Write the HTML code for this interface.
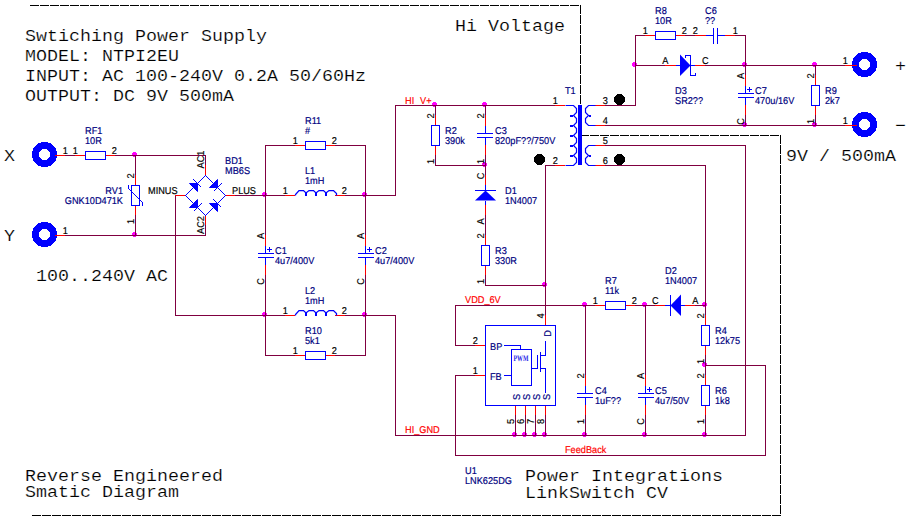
<!DOCTYPE html>
<html><head><meta charset="utf-8"><title>Schematic</title>
<style>html,body{margin:0;padding:0;background:#fff;overflow:hidden}svg{display:block}</style>
</head><body>
<svg width="913" height="521" viewBox="0 0 913 521">
<rect width="913" height="521" fill="#fff"/>
<path d="M30,5.5 H580.5 V135.5 H780.5 V514 M32,515.5 H781" fill="none" stroke="#000" stroke-width="1" stroke-dasharray="9 1" shape-rendering="crispEdges"/>
<g><path d="M31.9,154.5 a12.6,12.6 0 1,0 25.2,0 a12.6,12.6 0 1,0 -25.2,0 M38.9,154.5 a5.6,5.6 0 1,1 11.2,0 a5.6,5.6 0 1,1 -11.2,0" fill="#0000ff" fill-rule="evenodd" shape-rendering="crispEdges"/><path d="M31.9,234.5 a12.6,12.6 0 1,0 25.2,0 a12.6,12.6 0 1,0 -25.2,0 M38.9,234.5 a5.6,5.6 0 1,1 11.2,0 a5.6,5.6 0 1,1 -11.2,0" fill="#0000ff" fill-rule="evenodd" shape-rendering="crispEdges"/><path d="M851.9,64.5 a12.6,12.6 0 1,0 25.2,0 a12.6,12.6 0 1,0 -25.2,0 M858.9,64.5 a5.6,5.6 0 1,1 11.2,0 a5.6,5.6 0 1,1 -11.2,0" fill="#0000ff" fill-rule="evenodd" shape-rendering="crispEdges"/><path d="M851.9,124.5 a12.6,12.6 0 1,0 25.2,0 a12.6,12.6 0 1,0 -25.2,0 M858.9,124.5 a5.6,5.6 0 1,1 11.2,0 a5.6,5.6 0 1,1 -11.2,0" fill="#0000ff" fill-rule="evenodd" shape-rendering="crispEdges"/></g>
<g fill="#ff00ff" stroke="none" shape-rendering="crispEdges"><circle cx="134.5" cy="154.5" r="2.6"/><circle cx="134.5" cy="234.5" r="2.6"/><circle cx="264.5" cy="194.5" r="2.6"/><circle cx="364.5" cy="194.5" r="2.6"/><circle cx="264.5" cy="314.5" r="2.6"/><circle cx="364.5" cy="314.5" r="2.6"/><circle cx="434.5" cy="104.5" r="2.6"/><circle cx="484.5" cy="104.5" r="2.6"/><circle cx="484.5" cy="164.5" r="2.6"/><circle cx="544.5" cy="284.5" r="2.6"/><circle cx="634.5" cy="64.5" r="2.6"/><circle cx="744.5" cy="64.5" r="2.6"/><circle cx="814.5" cy="64.5" r="2.6"/><circle cx="744.5" cy="124.5" r="2.6"/><circle cx="814.5" cy="124.5" r="2.6"/><circle cx="514.5" cy="434.5" r="2.6"/><circle cx="524.5" cy="434.5" r="2.6"/><circle cx="534.5" cy="434.5" r="2.6"/><circle cx="544.5" cy="434.5" r="2.6"/><circle cx="584.5" cy="304.5" r="2.6"/><circle cx="644.5" cy="304.5" r="2.6"/><circle cx="704.5" cy="304.5" r="2.6"/><circle cx="704.5" cy="364.5" r="2.6"/><circle cx="584.5" cy="434.5" r="2.6"/><circle cx="644.5" cy="434.5" r="2.6"/><circle cx="704.5" cy="434.5" r="2.6"/></g>
<g fill="none" stroke="#800040" stroke-width="1" stroke-linecap="square" shape-rendering="crispEdges"><polyline points="65.5,155.5 75.5,155.5"/><polyline points="115.5,155.5 205.5,155.5 205.5,165.5"/><polyline points="65.5,235.5 205.5,235.5 205.5,225.5"/><polyline points="135.5,155.5 135.5,175.5"/><polyline points="135.5,215.5 135.5,235.5"/><polyline points="175.5,195.5 175.5,315.5 265.5,315.5"/><polyline points="235.5,195.5 285.5,195.5"/><polyline points="265.5,145.5 295.5,145.5"/><polyline points="335.5,145.5 365.5,145.5"/><polyline points="265.5,145.5 265.5,235.5"/><polyline points="365.5,145.5 365.5,235.5"/><polyline points="345.5,195.5 395.5,195.5 395.5,105.5 555.5,105.5"/><polyline points="265.5,275.5 265.5,355.5 295.5,355.5"/><polyline points="365.5,275.5 365.5,355.5 335.5,355.5"/><polyline points="265.5,315.5 285.5,315.5"/><polyline points="345.5,315.5 395.5,315.5 395.5,435.5 745.5,435.5"/><polyline points="435.5,105.5 435.5,115.5"/><polyline points="435.5,155.5 435.5,165.5 485.5,165.5"/><polyline points="485.5,105.5 485.5,115.5"/><polyline points="485.5,155.5 485.5,175.5"/><polyline points="485.5,215.5 485.5,235.5"/><polyline points="485.5,275.5 485.5,285.5 545.5,285.5"/><polyline points="545.5,165.5 555.5,165.5"/><polyline points="545.5,165.5 545.5,315.5"/><polyline points="605.5,105.5 635.5,105.5 635.5,35.5 645.5,35.5"/><polyline points="685.5,35.5 695.5,35.5"/><polyline points="735.5,35.5 745.5,35.5 745.5,75.5"/><polyline points="635.5,65.5 665.5,65.5"/><polyline points="705.5,65.5 845.5,65.5"/><polyline points="745.5,115.5 745.5,125.5"/><polyline points="605.5,125.5 845.5,125.5"/><polyline points="815.5,65.5 815.5,75.5"/><polyline points="815.5,115.5 815.5,125.5"/><polyline points="605.5,145.5 745.5,145.5 745.5,435.5"/><polyline points="605.5,165.5 705.5,165.5 705.5,315.5"/><polyline points="515.5,415.5 515.5,435.5"/><polyline points="525.5,415.5 525.5,435.5"/><polyline points="535.5,415.5 535.5,435.5"/><polyline points="545.5,415.5 545.5,435.5"/><polyline points="455.5,305.5 595.5,305.5"/><polyline points="455.5,305.5 455.5,345.5 475.5,345.5"/><polyline points="475.5,375.5 455.5,375.5 455.5,455.5 765.5,455.5 765.5,365.5 705.5,365.5"/><polyline points="545.5,315.5 545.5,165.5"/><polyline points="635.5,305.5 655.5,305.5"/><polyline points="695.5,305.5 705.5,305.5"/><polyline points="705.5,355.5 705.5,375.5"/><polyline points="705.5,415.5 705.5,435.5"/><polyline points="585.5,305.5 585.5,375.5"/><polyline points="585.5,415.5 585.5,435.5"/><polyline points="645.5,305.5 645.5,375.5"/><polyline points="645.5,415.5 645.5,435.5"/></g>
<g stroke="#ff0000" stroke-width="1" shape-rendering="crispEdges"><line x1="55" y1="155.5" x2="65" y2="155.5"/><line x1="55" y1="235.5" x2="65" y2="235.5"/><line x1="75" y1="155.5" x2="85" y2="155.5"/><line x1="105" y1="155.5" x2="115" y2="155.5"/><line x1="135.5" y1="175" x2="135.5" y2="185"/><line x1="135.5" y1="205" x2="135.5" y2="215"/><line x1="205.5" y1="165" x2="205.5" y2="175"/><line x1="205.5" y1="215" x2="205.5" y2="225"/><line x1="175" y1="195.5" x2="185" y2="195.5"/><line x1="225" y1="195.5" x2="235" y2="195.5"/><line x1="295" y1="145.5" x2="305" y2="145.5"/><line x1="325" y1="145.5" x2="335" y2="145.5"/><line x1="285" y1="195.5" x2="295" y2="195.5"/><line x1="335" y1="195.5" x2="345" y2="195.5"/><line x1="265.5" y1="235" x2="265.5" y2="246"/><line x1="265.5" y1="265" x2="265.5" y2="275"/><line x1="365.5" y1="235" x2="365.5" y2="246"/><line x1="365.5" y1="265" x2="365.5" y2="275"/><line x1="285" y1="315.5" x2="295" y2="315.5"/><line x1="335" y1="315.5" x2="345" y2="315.5"/><line x1="295" y1="355.5" x2="305" y2="355.5"/><line x1="325" y1="355.5" x2="335" y2="355.5"/><line x1="435.5" y1="115" x2="435.5" y2="125"/><line x1="435.5" y1="145" x2="435.5" y2="155"/><line x1="485.5" y1="115" x2="485.5" y2="126"/><line x1="485.5" y1="145" x2="485.5" y2="155"/><line x1="485.5" y1="175" x2="485.5" y2="185"/><line x1="485.5" y1="205" x2="485.5" y2="215"/><line x1="485.5" y1="235" x2="485.5" y2="245"/><line x1="485.5" y1="265" x2="485.5" y2="275"/><line x1="555" y1="105.5" x2="565" y2="105.5"/><line x1="555" y1="165.5" x2="565" y2="165.5"/><line x1="595" y1="105.5" x2="605" y2="105.5"/><line x1="595" y1="125.5" x2="605" y2="125.5"/><line x1="595" y1="145.5" x2="605" y2="145.5"/><line x1="595" y1="165.5" x2="605" y2="165.5"/><line x1="645" y1="35.5" x2="655" y2="35.5"/><line x1="675" y1="35.5" x2="685" y2="35.5"/><line x1="695" y1="35.5" x2="706" y2="35.5"/><line x1="725" y1="35.5" x2="735" y2="35.5"/><line x1="665" y1="65.5" x2="676" y2="65.5"/><line x1="695" y1="65.5" x2="705" y2="65.5"/><line x1="745.5" y1="75" x2="745.5" y2="86"/><line x1="745.5" y1="105" x2="745.5" y2="115"/><line x1="815.5" y1="75" x2="815.5" y2="85"/><line x1="815.5" y1="105" x2="815.5" y2="115"/><line x1="845" y1="65.5" x2="857" y2="65.5"/><line x1="845" y1="125.5" x2="857" y2="125.5"/><line x1="475" y1="345.5" x2="485" y2="345.5"/><line x1="475" y1="375.5" x2="485" y2="375.5"/><line x1="545.5" y1="315" x2="545.5" y2="325"/><line x1="515.5" y1="406" x2="515.5" y2="415"/><line x1="525.5" y1="406" x2="525.5" y2="415"/><line x1="535.5" y1="406" x2="535.5" y2="415"/><line x1="545.5" y1="406" x2="545.5" y2="415"/><line x1="595" y1="305.5" x2="605" y2="305.5"/><line x1="625" y1="305.5" x2="635" y2="305.5"/><line x1="655" y1="305.5" x2="665" y2="305.5"/><line x1="685" y1="305.5" x2="695" y2="305.5"/><line x1="705.5" y1="315" x2="705.5" y2="325"/><line x1="705.5" y1="345" x2="705.5" y2="355"/><line x1="705.5" y1="375" x2="705.5" y2="385"/><line x1="705.5" y1="405" x2="705.5" y2="415"/><line x1="585.5" y1="375" x2="585.5" y2="386"/><line x1="585.5" y1="405" x2="585.5" y2="415"/><line x1="645.5" y1="375" x2="645.5" y2="386"/><line x1="645.5" y1="405" x2="645.5" y2="415"/></g>
<g fill="none" stroke="#0000ff" stroke-width="1" shape-rendering="crispEdges"><rect x="85.5" y="151.5" width="20" height="8"/><rect x="131.5" y="185.5" width="8" height="20"/><polyline points="128.5,185 128.5,188.5 142.5,202.5 142.5,206" fill="none"/><rect x="305.5" y="141.5" width="20" height="8"/><line x1="265.5" y1="246" x2="265.5" y2="253"/><line x1="258" y1="253.5" x2="274" y2="253.5"/><line x1="258" y1="257.5" x2="274" y2="257.5"/><line x1="265.5" y1="258" x2="265.5" y2="265"/><line x1="365.5" y1="246" x2="365.5" y2="253"/><line x1="358" y1="253.5" x2="374" y2="253.5"/><line x1="358" y1="257.5" x2="374" y2="257.5"/><line x1="365.5" y1="258" x2="365.5" y2="265"/><rect x="305.5" y="351.5" width="20" height="8"/><rect x="431.5" y="125.5" width="8" height="20"/><line x1="485.5" y1="126" x2="485.5" y2="133"/><line x1="477" y1="133.5" x2="493" y2="133.5"/><line x1="477" y1="137.5" x2="493" y2="137.5"/><line x1="485.5" y1="138" x2="485.5" y2="145"/><line x1="485.5" y1="185" x2="485.5" y2="190"/><line x1="475" y1="190.5" x2="496" y2="190.5"/><line x1="485.5" y1="201" x2="485.5" y2="205"/><rect x="481.5" y="245.5" width="8" height="20"/><rect x="578" y="105" width="4" height="60" fill="#0000ff" stroke="none"/><rect x="570" y="115" width="3" height="2" fill="#0000ff" stroke="none"/><rect x="570" y="125" width="3" height="2" fill="#0000ff" stroke="none"/><rect x="570" y="135" width="3" height="2" fill="#0000ff" stroke="none"/><rect x="570" y="145" width="3" height="2" fill="#0000ff" stroke="none"/><rect x="570" y="155" width="3" height="2" fill="#0000ff" stroke="none"/><rect x="589" y="115" width="2" height="2" fill="#0000ff" stroke="none"/><rect x="589" y="155" width="2" height="2" fill="#0000ff" stroke="none"/><rect x="655.5" y="31.5" width="20" height="8"/><line x1="706" y1="35.5" x2="713" y2="35.5"/><line x1="713.5" y1="28" x2="713.5" y2="44"/><line x1="717.5" y1="28" x2="717.5" y2="44"/><line x1="718" y1="35.5" x2="725" y2="35.5"/><line x1="676" y1="65.5" x2="680" y2="65.5"/><polyline points="685.5,58 685.5,55.5 690.5,55.5 690.5,75.5 695.5,75.5 695.5,73" fill="none"/><line x1="691" y1="65.5" x2="695" y2="65.5"/><line x1="745.5" y1="86" x2="745.5" y2="93"/><line x1="738" y1="93.5" x2="754" y2="93.5"/><line x1="738" y1="97.5" x2="754" y2="97.5"/><line x1="745.5" y1="98" x2="745.5" y2="105"/><rect x="811.5" y="85.5" width="8" height="20"/><rect x="485.5" y="325.5" width="70" height="80"/><line x1="504" y1="345.5" x2="521" y2="345.5"/><line x1="520.5" y1="345" x2="520.5" y2="350"/><rect x="511.5" y="349.5" width="20" height="36"/><line x1="504" y1="375.5" x2="512" y2="375.5"/><line x1="531" y1="368.5" x2="538" y2="368.5"/><line x1="537.5" y1="355" x2="537.5" y2="369"/><line x1="540.5" y1="352" x2="540.5" y2="372"/><line x1="540" y1="355.5" x2="546" y2="355.5"/><line x1="545.5" y1="341" x2="545.5" y2="356"/><line x1="540" y1="368.5" x2="546" y2="368.5"/><line x1="545.5" y1="368" x2="545.5" y2="393"/><rect x="605.5" y="301.5" width="20" height="8"/><line x1="665" y1="305.5" x2="670" y2="305.5"/><line x1="670.5" y1="295" x2="670.5" y2="316"/><line x1="681" y1="305.5" x2="685" y2="305.5"/><rect x="701.5" y="325.5" width="8" height="20"/><rect x="701.5" y="385.5" width="8" height="20"/><line x1="585.5" y1="386" x2="585.5" y2="393"/><line x1="577" y1="393.5" x2="593" y2="393.5"/><line x1="577" y1="397.5" x2="593" y2="397.5"/><line x1="585.5" y1="398" x2="585.5" y2="405"/><line x1="645.5" y1="386" x2="645.5" y2="393"/><line x1="638" y1="393.5" x2="654" y2="393.5"/><line x1="638" y1="397.5" x2="654" y2="397.5"/><line x1="645.5" y1="398" x2="645.5" y2="405"/></g>
<g><polygon points="205.5,175.5 225.5,195.5 205.5,215.5 185.5,195.5" fill="none" stroke="#0000ff" stroke-width="1" shape-rendering="crispEdges"/><polygon points="189.5,183.5 197.5,183.5 197.5,191.5" fill="#0000ff" stroke="#0000ff" stroke-width="1"/><line x1="193.5" y1="179.5" x2="201.5" y2="187.5" stroke="#0000ff" stroke-width="1" shape-rendering="crispEdges"/><polygon points="217.5,179.5 209.5,187.5 217.5,187.5" fill="#0000ff" stroke="#0000ff" stroke-width="1"/><line x1="213.5" y1="191.5" x2="221.5" y2="183.5" stroke="#0000ff" stroke-width="1" shape-rendering="crispEdges"/><polygon points="197.5,199.5 189.5,207.5 197.5,207.5" fill="#0000ff" stroke="#0000ff" stroke-width="1"/><line x1="193.5" y1="211.5" x2="201.5" y2="203.5" stroke="#0000ff" stroke-width="1" shape-rendering="crispEdges"/><polygon points="209.5,203.5 217.5,203.5 217.5,211.5" fill="#0000ff" stroke="#0000ff" stroke-width="1"/><line x1="213.5" y1="199.5" x2="221.5" y2="207.5" stroke="#0000ff" stroke-width="1" shape-rendering="crispEdges"/><polyline points="295.5,195.5 295.5,194.5 299,190.5 303.5,190.5 306,193 309,190.5 313.5,190.5 316,193 319,190.5 323.5,190.5 326,193 329,190.5 333.5,190.5 336.5,193.5 336.5,195.5" fill="none" stroke="#0000ff" stroke-width="1.25"/><rect x="305" y="192" width="2" height="4" fill="#0000ff"/><rect x="315" y="192" width="2" height="4" fill="#0000ff"/><rect x="325" y="192" width="2" height="4" fill="#0000ff"/><rect x="267" y="249" width="5" height="1" fill="#0000ff"/><rect x="269" y="247" width="1" height="5" fill="#0000ff"/><rect x="367" y="249" width="5" height="1" fill="#0000ff"/><rect x="369" y="247" width="1" height="5" fill="#0000ff"/><polyline points="295.5,315.5 295.5,314.5 299,310.5 303.5,310.5 306,313 309,310.5 313.5,310.5 316,313 319,310.5 323.5,310.5 326,313 329,310.5 333.5,310.5 336.5,313.5 336.5,315.5" fill="none" stroke="#0000ff" stroke-width="1.25"/><rect x="305" y="312" width="2" height="4" fill="#0000ff"/><rect x="315" y="312" width="2" height="4" fill="#0000ff"/><rect x="325" y="312" width="2" height="4" fill="#0000ff"/><polygon points="475,200.5 496,200.5 485.5,190.5" fill="#0000ff"/><path d="M565.5,105.5 H573.5 L576.5,108.5 V112.5 L573.5,115.5 L576.5,118.5 V122.5 L573.5,125.5 L576.5,128.5 V132.5 L573.5,135.5 L576.5,138.5 V142.5 L573.5,145.5 L576.5,148.5 V152.5 L573.5,155.5 L576.5,158.5 V162.5 L573.5,165.5 H565.5" fill="none" stroke="#0000ff" stroke-width="1.2"/><path d="M595.5,105.5 H588.5 L585.5,108.5 V112.5 L588.5,115.5 L585.5,118.5 V122.5 L588.5,125.5 H595.5" fill="none" stroke="#0000ff" stroke-width="1.2"/><path d="M595.5,145.5 H588.5 L585.5,148.5 V152.5 L588.5,155.5 L585.5,158.5 V162.5 L588.5,165.5 H595.5" fill="none" stroke="#0000ff" stroke-width="1.2"/><circle cx="539.5" cy="159.5" r="5.6" fill="#000" shape-rendering="crispEdges"/><circle cx="619.5" cy="99.5" r="5.6" fill="#000" shape-rendering="crispEdges"/><circle cx="619.5" cy="159.5" r="5.6" fill="#000" shape-rendering="crispEdges"/><polygon points="680,54.5 680,76 690.5,65.5" fill="#0000ff"/><rect x="747" y="89" width="5" height="1" fill="#0000ff"/><rect x="749" y="87" width="1" height="5" fill="#0000ff"/><polygon points="670.5,305.5 681,294.5 681,316" fill="#0000ff"/><rect x="647" y="389" width="5" height="1" fill="#0000ff"/><rect x="649" y="387" width="1" height="5" fill="#0000ff"/></g>
<g text-rendering="geometricPrecision"><text transform="translate(65.3 154) scale(0.93 1.0)" font-size="9.9" fill="#000000" text-anchor="middle" font-family="Liberation Sans" stroke="#000000" stroke-width="0.18">1</text><text transform="translate(65.3 234) scale(0.93 1.0)" font-size="9.9" fill="#000000" text-anchor="middle" font-family="Liberation Sans" stroke="#000000" stroke-width="0.18">1</text><text transform="translate(75.3 154) scale(0.93 1.0)" font-size="9.9" fill="#000000" text-anchor="middle" font-family="Liberation Sans" stroke="#000000" stroke-width="0.18">1</text><text transform="translate(114.3 154) scale(0.93 1.0)" font-size="9.9" fill="#000000" text-anchor="middle" font-family="Liberation Sans" stroke="#000000" stroke-width="0.18">2</text><text transform="translate(85 134) scale(0.93 1.0)" font-size="9.9" fill="#000080" text-anchor="start" font-family="Liberation Sans" stroke="#000080" stroke-width="0.18">RF1</text><text transform="translate(85 144) scale(0.93 1.0)" font-size="9.9" fill="#000080" text-anchor="start" font-family="Liberation Sans" stroke="#000080" stroke-width="0.18">10R</text><text transform="translate(133.7 176) rotate(-90) scale(0.93 1.0)" font-size="9.9" fill="#000000" text-anchor="middle" font-family="Liberation Sans" stroke="#000000" stroke-width="0.18">2</text><text transform="translate(133.7 221.5) rotate(-90) scale(0.93 1.0)" font-size="9.9" fill="#000000" text-anchor="middle" font-family="Liberation Sans" stroke="#000000" stroke-width="0.18">1</text><text transform="translate(123 194) scale(0.93 1.0)" font-size="9.9" fill="#000080" text-anchor="end" font-family="Liberation Sans" stroke="#000080" stroke-width="0.18">RV1</text><text transform="translate(123 204) scale(0.93 1.0)" font-size="9.9" fill="#000080" text-anchor="end" font-family="Liberation Sans" stroke="#000080" stroke-width="0.18">GNK10D471K</text><text transform="translate(204 159.5) rotate(-90) scale(0.93 1.0)" font-size="9.9" fill="#000000" text-anchor="middle" font-family="Liberation Sans" stroke="#000000" stroke-width="0.18">AC1</text><text transform="translate(204 225) rotate(-90) scale(0.93 1.0)" font-size="9.9" fill="#000000" text-anchor="middle" font-family="Liberation Sans" stroke="#000000" stroke-width="0.18">AC2</text><text transform="translate(148 194) scale(0.93 1.0)" font-size="9.9" fill="#000000" text-anchor="start" font-family="Liberation Sans" stroke="#000000" stroke-width="0.18">MINUS</text><text transform="translate(232 194) scale(0.93 1.0)" font-size="9.9" fill="#000000" text-anchor="start" font-family="Liberation Sans" stroke="#000000" stroke-width="0.18">PLUS</text><text transform="translate(225 164) scale(0.93 1.0)" font-size="9.9" fill="#000080" text-anchor="start" font-family="Liberation Sans" stroke="#000080" stroke-width="0.18">BD1</text><text transform="translate(225 174) scale(0.93 1.0)" font-size="9.9" fill="#000080" text-anchor="start" font-family="Liberation Sans" stroke="#000080" stroke-width="0.18">MB6S</text><text transform="translate(295.3 144) scale(0.93 1.0)" font-size="9.9" fill="#000000" text-anchor="middle" font-family="Liberation Sans" stroke="#000000" stroke-width="0.18">1</text><text transform="translate(334.3 144) scale(0.93 1.0)" font-size="9.9" fill="#000000" text-anchor="middle" font-family="Liberation Sans" stroke="#000000" stroke-width="0.18">2</text><text transform="translate(305 124) scale(0.93 1.0)" font-size="9.9" fill="#000080" text-anchor="start" font-family="Liberation Sans" stroke="#000080" stroke-width="0.18">R11</text><text transform="translate(305 134) scale(0.93 1.0)" font-size="9.9" fill="#000080" text-anchor="start" font-family="Liberation Sans" stroke="#000080" stroke-width="0.18">#</text><text transform="translate(285.3 194) scale(0.93 1.0)" font-size="9.9" fill="#000000" text-anchor="middle" font-family="Liberation Sans" stroke="#000000" stroke-width="0.18">1</text><text transform="translate(344.3 194) scale(0.93 1.0)" font-size="9.9" fill="#000000" text-anchor="middle" font-family="Liberation Sans" stroke="#000000" stroke-width="0.18">2</text><text transform="translate(305 174) scale(0.93 1.0)" font-size="9.9" fill="#000080" text-anchor="start" font-family="Liberation Sans" stroke="#000080" stroke-width="0.18">L1</text><text transform="translate(305 184) scale(0.93 1.0)" font-size="9.9" fill="#000080" text-anchor="start" font-family="Liberation Sans" stroke="#000080" stroke-width="0.18">1mH</text><text transform="translate(263.7 236) rotate(-90) scale(0.93 1.0)" font-size="9.9" fill="#000000" text-anchor="middle" font-family="Liberation Sans" stroke="#000000" stroke-width="0.18">A</text><text transform="translate(263.7 281.5) rotate(-90) scale(0.93 1.0)" font-size="9.9" fill="#000000" text-anchor="middle" font-family="Liberation Sans" stroke="#000000" stroke-width="0.18">C</text><text transform="translate(275 254) scale(0.93 1.0)" font-size="9.9" fill="#000080" text-anchor="start" font-family="Liberation Sans" stroke="#000080" stroke-width="0.18">C1</text><text transform="translate(275 264) scale(0.93 1.0)" font-size="9.9" fill="#000080" text-anchor="start" font-family="Liberation Sans" stroke="#000080" stroke-width="0.18">4u7/400V</text><text transform="translate(363.7 236) rotate(-90) scale(0.93 1.0)" font-size="9.9" fill="#000000" text-anchor="middle" font-family="Liberation Sans" stroke="#000000" stroke-width="0.18">A</text><text transform="translate(363.7 281.5) rotate(-90) scale(0.93 1.0)" font-size="9.9" fill="#000000" text-anchor="middle" font-family="Liberation Sans" stroke="#000000" stroke-width="0.18">C</text><text transform="translate(375 254) scale(0.93 1.0)" font-size="9.9" fill="#000080" text-anchor="start" font-family="Liberation Sans" stroke="#000080" stroke-width="0.18">C2</text><text transform="translate(375 264) scale(0.93 1.0)" font-size="9.9" fill="#000080" text-anchor="start" font-family="Liberation Sans" stroke="#000080" stroke-width="0.18">4u7/400V</text><text transform="translate(285.3 314) scale(0.93 1.0)" font-size="9.9" fill="#000000" text-anchor="middle" font-family="Liberation Sans" stroke="#000000" stroke-width="0.18">1</text><text transform="translate(344.3 314) scale(0.93 1.0)" font-size="9.9" fill="#000000" text-anchor="middle" font-family="Liberation Sans" stroke="#000000" stroke-width="0.18">2</text><text transform="translate(305 294) scale(0.93 1.0)" font-size="9.9" fill="#000080" text-anchor="start" font-family="Liberation Sans" stroke="#000080" stroke-width="0.18">L2</text><text transform="translate(305 304) scale(0.93 1.0)" font-size="9.9" fill="#000080" text-anchor="start" font-family="Liberation Sans" stroke="#000080" stroke-width="0.18">1mH</text><text transform="translate(295.3 354) scale(0.93 1.0)" font-size="9.9" fill="#000000" text-anchor="middle" font-family="Liberation Sans" stroke="#000000" stroke-width="0.18">1</text><text transform="translate(334.3 354) scale(0.93 1.0)" font-size="9.9" fill="#000000" text-anchor="middle" font-family="Liberation Sans" stroke="#000000" stroke-width="0.18">2</text><text transform="translate(305 334) scale(0.93 1.0)" font-size="9.9" fill="#000080" text-anchor="start" font-family="Liberation Sans" stroke="#000080" stroke-width="0.18">R10</text><text transform="translate(305 344) scale(0.93 1.0)" font-size="9.9" fill="#000080" text-anchor="start" font-family="Liberation Sans" stroke="#000080" stroke-width="0.18">5k1</text><text transform="translate(405 104) scale(0.93 1.0)" font-size="9.9" fill="#ff0000" text-anchor="start" font-family="Liberation Sans" stroke="#ff0000" stroke-width="0.18">HI</text><text transform="translate(420 104) scale(0.93 1.0)" font-size="9.9" fill="#ff0000" text-anchor="start" font-family="Liberation Sans" stroke="#ff0000" stroke-width="0.18">V+</text><text transform="translate(405 433) scale(0.93 1.0)" font-size="9.9" fill="#ff0000" text-anchor="start" font-family="Liberation Sans" stroke="#ff0000" stroke-width="0.18">HI_GND</text><text transform="translate(433.7 116) rotate(-90) scale(0.93 1.0)" font-size="9.9" fill="#000000" text-anchor="middle" font-family="Liberation Sans" stroke="#000000" stroke-width="0.18">2</text><text transform="translate(433.7 161.5) rotate(-90) scale(0.93 1.0)" font-size="9.9" fill="#000000" text-anchor="middle" font-family="Liberation Sans" stroke="#000000" stroke-width="0.18">1</text><text transform="translate(445 134) scale(0.93 1.0)" font-size="9.9" fill="#000080" text-anchor="start" font-family="Liberation Sans" stroke="#000080" stroke-width="0.18">R2</text><text transform="translate(445 144) scale(0.93 1.0)" font-size="9.9" fill="#000080" text-anchor="start" font-family="Liberation Sans" stroke="#000080" stroke-width="0.18">390k</text><text transform="translate(483.7 116) rotate(-90) scale(0.93 1.0)" font-size="9.9" fill="#000000" text-anchor="middle" font-family="Liberation Sans" stroke="#000000" stroke-width="0.18">2</text><text transform="translate(483.7 161.5) rotate(-90) scale(0.93 1.0)" font-size="9.9" fill="#000000" text-anchor="middle" font-family="Liberation Sans" stroke="#000000" stroke-width="0.18">1</text><text transform="translate(495 134) scale(0.93 1.0)" font-size="9.9" fill="#000080" text-anchor="start" font-family="Liberation Sans" stroke="#000080" stroke-width="0.18">C3</text><text transform="translate(495 144) scale(0.93 1.0)" font-size="9.9" fill="#000080" text-anchor="start" font-family="Liberation Sans" stroke="#000080" stroke-width="0.18">820pF??/750V</text><text transform="translate(483.7 176) rotate(-90) scale(0.93 1.0)" font-size="9.9" fill="#000000" text-anchor="middle" font-family="Liberation Sans" stroke="#000000" stroke-width="0.18">C</text><text transform="translate(483.7 221.5) rotate(-90) scale(0.93 1.0)" font-size="9.9" fill="#000000" text-anchor="middle" font-family="Liberation Sans" stroke="#000000" stroke-width="0.18">A</text><text transform="translate(505 194) scale(0.93 1.0)" font-size="9.9" fill="#000080" text-anchor="start" font-family="Liberation Sans" stroke="#000080" stroke-width="0.18">D1</text><text transform="translate(505 204) scale(0.93 1.0)" font-size="9.9" fill="#000080" text-anchor="start" font-family="Liberation Sans" stroke="#000080" stroke-width="0.18">1N4007</text><text transform="translate(483.7 236) rotate(-90) scale(0.93 1.0)" font-size="9.9" fill="#000000" text-anchor="middle" font-family="Liberation Sans" stroke="#000000" stroke-width="0.18">2</text><text transform="translate(483.7 281.5) rotate(-90) scale(0.93 1.0)" font-size="9.9" fill="#000000" text-anchor="middle" font-family="Liberation Sans" stroke="#000000" stroke-width="0.18">1</text><text transform="translate(495 254) scale(0.93 1.0)" font-size="9.9" fill="#000080" text-anchor="start" font-family="Liberation Sans" stroke="#000080" stroke-width="0.18">R3</text><text transform="translate(495 264) scale(0.93 1.0)" font-size="9.9" fill="#000080" text-anchor="start" font-family="Liberation Sans" stroke="#000080" stroke-width="0.18">330R</text><text transform="translate(555.3 104) scale(0.93 1.0)" font-size="9.9" fill="#000000" text-anchor="middle" font-family="Liberation Sans" stroke="#000000" stroke-width="0.18">1</text><text transform="translate(555.3 164) scale(0.93 1.0)" font-size="9.9" fill="#000000" text-anchor="middle" font-family="Liberation Sans" stroke="#000000" stroke-width="0.18">2</text><text transform="translate(605.3 104) scale(0.93 1.0)" font-size="9.9" fill="#000000" text-anchor="middle" font-family="Liberation Sans" stroke="#000000" stroke-width="0.18">3</text><text transform="translate(605.3 124) scale(0.93 1.0)" font-size="9.9" fill="#000000" text-anchor="middle" font-family="Liberation Sans" stroke="#000000" stroke-width="0.18">4</text><text transform="translate(605.3 144) scale(0.93 1.0)" font-size="9.9" fill="#000000" text-anchor="middle" font-family="Liberation Sans" stroke="#000000" stroke-width="0.18">5</text><text transform="translate(605.3 164) scale(0.93 1.0)" font-size="9.9" fill="#000000" text-anchor="middle" font-family="Liberation Sans" stroke="#000000" stroke-width="0.18">6</text><text transform="translate(565 94) scale(0.93 1.0)" font-size="9.9" fill="#000080" text-anchor="start" font-family="Liberation Sans" stroke="#000080" stroke-width="0.18">T1</text><text transform="translate(645.3 34) scale(0.93 1.0)" font-size="9.9" fill="#000000" text-anchor="middle" font-family="Liberation Sans" stroke="#000000" stroke-width="0.18">1</text><text transform="translate(684.3 34) scale(0.93 1.0)" font-size="9.9" fill="#000000" text-anchor="middle" font-family="Liberation Sans" stroke="#000000" stroke-width="0.18">2</text><text transform="translate(655 14) scale(0.93 1.0)" font-size="9.9" fill="#000080" text-anchor="start" font-family="Liberation Sans" stroke="#000080" stroke-width="0.18">R8</text><text transform="translate(655 24) scale(0.93 1.0)" font-size="9.9" fill="#000080" text-anchor="start" font-family="Liberation Sans" stroke="#000080" stroke-width="0.18">10R</text><text transform="translate(695.3 34) scale(0.93 1.0)" font-size="9.9" fill="#000000" text-anchor="middle" font-family="Liberation Sans" stroke="#000000" stroke-width="0.18">2</text><text transform="translate(735.3 34) scale(0.93 1.0)" font-size="9.9" fill="#000000" text-anchor="middle" font-family="Liberation Sans" stroke="#000000" stroke-width="0.18">1</text><text transform="translate(705 14) scale(0.93 1.0)" font-size="9.9" fill="#000080" text-anchor="start" font-family="Liberation Sans" stroke="#000080" stroke-width="0.18">C6</text><text transform="translate(705 24) scale(0.93 1.0)" font-size="9.9" fill="#000080" text-anchor="start" font-family="Liberation Sans" stroke="#000080" stroke-width="0.18">??</text><text transform="translate(665.3 64) scale(0.93 1.0)" font-size="9.9" fill="#000000" text-anchor="middle" font-family="Liberation Sans" stroke="#000000" stroke-width="0.18">A</text><text transform="translate(705.3 64) scale(0.93 1.0)" font-size="9.9" fill="#000000" text-anchor="middle" font-family="Liberation Sans" stroke="#000000" stroke-width="0.18">C</text><text transform="translate(675 94) scale(0.93 1.0)" font-size="9.9" fill="#000080" text-anchor="start" font-family="Liberation Sans" stroke="#000080" stroke-width="0.18">D3</text><text transform="translate(675 104) scale(0.93 1.0)" font-size="9.9" fill="#000080" text-anchor="start" font-family="Liberation Sans" stroke="#000080" stroke-width="0.18">SR2??</text><text transform="translate(743.7 76) rotate(-90) scale(0.93 1.0)" font-size="9.9" fill="#000000" text-anchor="middle" font-family="Liberation Sans" stroke="#000000" stroke-width="0.18">A</text><text transform="translate(743.7 121.5) rotate(-90) scale(0.93 1.0)" font-size="9.9" fill="#000000" text-anchor="middle" font-family="Liberation Sans" stroke="#000000" stroke-width="0.18">C</text><text transform="translate(755 94) scale(0.93 1.0)" font-size="9.9" fill="#000080" text-anchor="start" font-family="Liberation Sans" stroke="#000080" stroke-width="0.18">C7</text><text transform="translate(755 104) scale(0.93 1.0)" font-size="9.9" fill="#000080" text-anchor="start" font-family="Liberation Sans" stroke="#000080" stroke-width="0.18">470u/16V</text><text transform="translate(813.7 76) rotate(-90) scale(0.93 1.0)" font-size="9.9" fill="#000000" text-anchor="middle" font-family="Liberation Sans" stroke="#000000" stroke-width="0.18">2</text><text transform="translate(813.7 121.5) rotate(-90) scale(0.93 1.0)" font-size="9.9" fill="#000000" text-anchor="middle" font-family="Liberation Sans" stroke="#000000" stroke-width="0.18">1</text><text transform="translate(825 94) scale(0.93 1.0)" font-size="9.9" fill="#000080" text-anchor="start" font-family="Liberation Sans" stroke="#000080" stroke-width="0.18">R9</text><text transform="translate(825 104) scale(0.93 1.0)" font-size="9.9" fill="#000080" text-anchor="start" font-family="Liberation Sans" stroke="#000080" stroke-width="0.18">2k7</text><text transform="translate(845.3 64) scale(0.93 1.0)" font-size="9.9" fill="#000000" text-anchor="middle" font-family="Liberation Sans" stroke="#000000" stroke-width="0.18">1</text><text transform="translate(845.3 124) scale(0.93 1.0)" font-size="9.9" fill="#000000" text-anchor="middle" font-family="Liberation Sans" stroke="#000000" stroke-width="0.18">1</text><text transform="translate(475.3 344) scale(0.93 1.0)" font-size="9.9" fill="#000000" text-anchor="middle" font-family="Liberation Sans" stroke="#000000" stroke-width="0.18">2</text><text transform="translate(475.3 374) scale(0.93 1.0)" font-size="9.9" fill="#000000" text-anchor="middle" font-family="Liberation Sans" stroke="#000000" stroke-width="0.18">1</text><text transform="translate(543.7 316) rotate(-90) scale(0.93 1.0)" font-size="9.9" fill="#000000" text-anchor="middle" font-family="Liberation Sans" stroke="#000000" stroke-width="0.18">4</text><text transform="translate(513.7 421.5) rotate(-90) scale(0.93 1.0)" font-size="9.9" fill="#000000" text-anchor="middle" font-family="Liberation Sans" stroke="#000000" stroke-width="0.18">5</text><text transform="translate(519.5 397) rotate(-90) scale(0.93 1.0)" font-size="9.9" fill="#000080" text-anchor="middle" font-family="Liberation Sans" stroke="#000080" stroke-width="0.18">S</text><text transform="translate(523.7 421.5) rotate(-90) scale(0.93 1.0)" font-size="9.9" fill="#000000" text-anchor="middle" font-family="Liberation Sans" stroke="#000000" stroke-width="0.18">6</text><text transform="translate(529.5 397) rotate(-90) scale(0.93 1.0)" font-size="9.9" fill="#000080" text-anchor="middle" font-family="Liberation Sans" stroke="#000080" stroke-width="0.18">S</text><text transform="translate(533.7 421.5) rotate(-90) scale(0.93 1.0)" font-size="9.9" fill="#000000" text-anchor="middle" font-family="Liberation Sans" stroke="#000000" stroke-width="0.18">7</text><text transform="translate(539.5 397) rotate(-90) scale(0.93 1.0)" font-size="9.9" fill="#000080" text-anchor="middle" font-family="Liberation Sans" stroke="#000080" stroke-width="0.18">S</text><text transform="translate(543.7 421.5) rotate(-90) scale(0.93 1.0)" font-size="9.9" fill="#000000" text-anchor="middle" font-family="Liberation Sans" stroke="#000000" stroke-width="0.18">8</text><text transform="translate(549.5 397) rotate(-90) scale(0.93 1.0)" font-size="9.9" fill="#000080" text-anchor="middle" font-family="Liberation Sans" stroke="#000080" stroke-width="0.18">S</text><text transform="translate(551 333.5) rotate(-90) scale(0.93 1.0)" font-size="9.9" fill="#000080" text-anchor="middle" font-family="Liberation Sans" stroke="#000080" stroke-width="0.18">D</text><text transform="translate(490 350) scale(0.93 1.0)" font-size="9.9" fill="#000080" text-anchor="start" font-family="Liberation Sans" stroke="#000080" stroke-width="0.18">BP</text><text transform="translate(490 380) scale(0.93 1.0)" font-size="9.9" fill="#000080" text-anchor="start" font-family="Liberation Sans" stroke="#000080" stroke-width="0.18">FB</text><text transform="translate(521 360.8)" font-size="8.6" fill="#2828e8" text-anchor="middle" font-family="Liberation Serif" font-weight="bold" textLength="15" lengthAdjust="spacingAndGlyphs">PWM</text><text transform="translate(465 474) scale(0.93 1.0)" font-size="9.9" fill="#000080" text-anchor="start" font-family="Liberation Sans" stroke="#000080" stroke-width="0.18">U1</text><text transform="translate(465 484) scale(0.93 1.0)" font-size="9.9" fill="#000080" text-anchor="start" font-family="Liberation Sans" stroke="#000080" stroke-width="0.18">LNK625DG</text><text transform="translate(465 303) scale(0.93 1.0)" font-size="9.9" fill="#ff0000" text-anchor="start" font-family="Liberation Sans" stroke="#ff0000" stroke-width="0.18">VDD_6V</text><text transform="translate(565 453) scale(0.93 1.0)" font-size="9.9" fill="#ff0000" text-anchor="start" font-family="Liberation Sans" stroke="#ff0000" stroke-width="0.18">FeedBack</text><text transform="translate(595.3 304) scale(0.93 1.0)" font-size="9.9" fill="#000000" text-anchor="middle" font-family="Liberation Sans" stroke="#000000" stroke-width="0.18">1</text><text transform="translate(634.3 304) scale(0.93 1.0)" font-size="9.9" fill="#000000" text-anchor="middle" font-family="Liberation Sans" stroke="#000000" stroke-width="0.18">2</text><text transform="translate(605 284) scale(0.93 1.0)" font-size="9.9" fill="#000080" text-anchor="start" font-family="Liberation Sans" stroke="#000080" stroke-width="0.18">R7</text><text transform="translate(605 294) scale(0.93 1.0)" font-size="9.9" fill="#000080" text-anchor="start" font-family="Liberation Sans" stroke="#000080" stroke-width="0.18">11k</text><text transform="translate(655.3 304) scale(0.93 1.0)" font-size="9.9" fill="#000000" text-anchor="middle" font-family="Liberation Sans" stroke="#000000" stroke-width="0.18">C</text><text transform="translate(695.3 304) scale(0.93 1.0)" font-size="9.9" fill="#000000" text-anchor="middle" font-family="Liberation Sans" stroke="#000000" stroke-width="0.18">A</text><text transform="translate(665 274) scale(0.93 1.0)" font-size="9.9" fill="#000080" text-anchor="start" font-family="Liberation Sans" stroke="#000080" stroke-width="0.18">D2</text><text transform="translate(665 284) scale(0.93 1.0)" font-size="9.9" fill="#000080" text-anchor="start" font-family="Liberation Sans" stroke="#000080" stroke-width="0.18">1N4007</text><text transform="translate(703.7 316) rotate(-90) scale(0.93 1.0)" font-size="9.9" fill="#000000" text-anchor="middle" font-family="Liberation Sans" stroke="#000000" stroke-width="0.18">2</text><text transform="translate(703.7 361.5) rotate(-90) scale(0.93 1.0)" font-size="9.9" fill="#000000" text-anchor="middle" font-family="Liberation Sans" stroke="#000000" stroke-width="0.18">1</text><text transform="translate(715 334) scale(0.93 1.0)" font-size="9.9" fill="#000080" text-anchor="start" font-family="Liberation Sans" stroke="#000080" stroke-width="0.18">R4</text><text transform="translate(715 344) scale(0.93 1.0)" font-size="9.9" fill="#000080" text-anchor="start" font-family="Liberation Sans" stroke="#000080" stroke-width="0.18">12k75</text><text transform="translate(703.7 376) rotate(-90) scale(0.93 1.0)" font-size="9.9" fill="#000000" text-anchor="middle" font-family="Liberation Sans" stroke="#000000" stroke-width="0.18">2</text><text transform="translate(703.7 421.5) rotate(-90) scale(0.93 1.0)" font-size="9.9" fill="#000000" text-anchor="middle" font-family="Liberation Sans" stroke="#000000" stroke-width="0.18">1</text><text transform="translate(715 394) scale(0.93 1.0)" font-size="9.9" fill="#000080" text-anchor="start" font-family="Liberation Sans" stroke="#000080" stroke-width="0.18">R6</text><text transform="translate(715 404) scale(0.93 1.0)" font-size="9.9" fill="#000080" text-anchor="start" font-family="Liberation Sans" stroke="#000080" stroke-width="0.18">1k8</text><text transform="translate(583.7 376) rotate(-90) scale(0.93 1.0)" font-size="9.9" fill="#000000" text-anchor="middle" font-family="Liberation Sans" stroke="#000000" stroke-width="0.18">2</text><text transform="translate(583.7 421.5) rotate(-90) scale(0.93 1.0)" font-size="9.9" fill="#000000" text-anchor="middle" font-family="Liberation Sans" stroke="#000000" stroke-width="0.18">1</text><text transform="translate(595 394) scale(0.93 1.0)" font-size="9.9" fill="#000080" text-anchor="start" font-family="Liberation Sans" stroke="#000080" stroke-width="0.18">C4</text><text transform="translate(595 404) scale(0.93 1.0)" font-size="9.9" fill="#000080" text-anchor="start" font-family="Liberation Sans" stroke="#000080" stroke-width="0.18">1uF??</text><text transform="translate(643.7 376) rotate(-90) scale(0.93 1.0)" font-size="9.9" fill="#000000" text-anchor="middle" font-family="Liberation Sans" stroke="#000000" stroke-width="0.18">A</text><text transform="translate(643.7 421.5) rotate(-90) scale(0.93 1.0)" font-size="9.9" fill="#000000" text-anchor="middle" font-family="Liberation Sans" stroke="#000000" stroke-width="0.18">C</text><text transform="translate(655 394) scale(0.93 1.0)" font-size="9.9" fill="#000080" text-anchor="start" font-family="Liberation Sans" stroke="#000080" stroke-width="0.18">C5</text><text transform="translate(655 404) scale(0.93 1.0)" font-size="9.9" fill="#000080" text-anchor="start" font-family="Liberation Sans" stroke="#000080" stroke-width="0.18">4u7/50V</text></g>
<g><text transform="translate(25 41) scale(1 0.92)" font-size="18.33" fill="#000000" text-anchor="start" font-family="Liberation Mono" stroke="#fff" stroke-width="0.2">Swtiching Power Supply</text><text transform="translate(25 61) scale(1 0.92)" font-size="18.33" fill="#000000" text-anchor="start" font-family="Liberation Mono" stroke="#fff" stroke-width="0.2">MODEL: NTPI2EU</text><text transform="translate(25 81) scale(1 0.92)" font-size="18.33" fill="#000000" text-anchor="start" font-family="Liberation Mono" stroke="#fff" stroke-width="0.2">INPUT: AC 100-240V 0.2A 50/60Hz</text><text transform="translate(25 101) scale(1 0.92)" font-size="18.33" fill="#000000" text-anchor="start" font-family="Liberation Mono" stroke="#fff" stroke-width="0.2">OUTPUT: DC 9V 500mA</text><text transform="translate(455 31) scale(1 0.92)" font-size="18.33" fill="#000000" text-anchor="start" font-family="Liberation Mono" stroke="#fff" stroke-width="0.2">Hi Voltage</text><text transform="translate(4 161) scale(1 0.92)" font-size="18.33" fill="#000000" text-anchor="start" font-family="Liberation Mono" stroke="#fff" stroke-width="0.2">X</text><text transform="translate(4 241) scale(1 0.92)" font-size="18.33" fill="#000000" text-anchor="start" font-family="Liberation Mono" stroke="#fff" stroke-width="0.2">Y</text><text transform="translate(36 281) scale(1 0.92)" font-size="18.33" fill="#000000" text-anchor="start" font-family="Liberation Mono" stroke="#fff" stroke-width="0.2">100..240V AC</text><text transform="translate(786 161) scale(1 0.92)" font-size="18.33" fill="#000000" text-anchor="start" font-family="Liberation Mono" stroke="#fff" stroke-width="0.2">9V / 500mA</text><text transform="translate(25 481) scale(1 0.92)" font-size="18.33" fill="#000000" text-anchor="start" font-family="Liberation Mono" stroke="#fff" stroke-width="0.2">Reverse Engineered</text><text transform="translate(25 497) scale(1 0.92)" font-size="18.33" fill="#000000" text-anchor="start" font-family="Liberation Mono" stroke="#fff" stroke-width="0.2">Smatic Diagram</text><text transform="translate(525 481) scale(1 0.92)" font-size="18.33" fill="#000000" text-anchor="start" font-family="Liberation Mono" stroke="#fff" stroke-width="0.2">Power Integrations</text><text transform="translate(525 498) scale(1 0.92)" font-size="18.33" fill="#000000" text-anchor="start" font-family="Liberation Mono" stroke="#fff" stroke-width="0.2">LinkSwitch CV</text><text transform="translate(895 71) scale(1 0.92)" font-size="18.33" fill="#000000" text-anchor="start" font-family="Liberation Mono" stroke="#fff" stroke-width="0.2">+</text><text transform="translate(895 131) scale(1 0.92)" font-size="18.33" fill="#000000" text-anchor="start" font-family="Liberation Mono" stroke="#fff" stroke-width="0.2">−</text></g>
</svg>
</body></html>
